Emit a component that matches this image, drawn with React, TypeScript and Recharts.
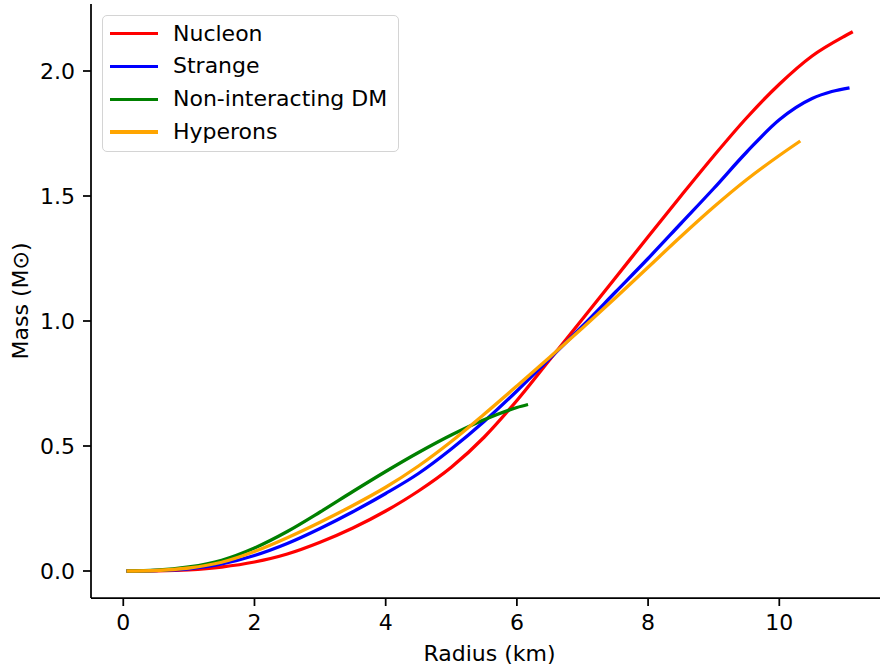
import React from "react";
import { LineChart, Line, XAxis, YAxis, Legend } from "recharts";

const nucleonRadius = [0.05, 0.5, 1, 1.5, 2, 2.5, 3, 3.5, 4, 4.5, 5, 5.5, 6, 6.5, 7, 7.5, 8, 8.5, 9, 9.5, 10, 10.5, 11, 11.12];
const nucleonMass = [0, 0.001, 0.005, 0.016, 0.036, 0.068, 0.115, 0.172, 0.24, 0.32, 0.415, 0.535, 0.682, 0.845, 1.008, 1.172, 1.337, 1.5, 1.66, 1.812, 1.947, 2.06, 2.14, 2.157];

const strangeRadius = [0.05, 0.5, 1, 1.5, 2, 2.5, 3, 3.5, 4, 4.5, 5, 5.5, 6, 6.5, 7, 7.5, 8, 8.5, 9, 9.5, 10, 10.5, 10.8, 11.07];
const strangeMass = [0, 0.002, 0.009, 0.028, 0.062, 0.11, 0.17, 0.237, 0.31, 0.39, 0.488, 0.598, 0.72, 0.85, 0.98, 1.115, 1.25, 1.39, 1.53, 1.675, 1.805, 1.89, 1.918, 1.933];

const dmRadius = [0.05, 0.5, 1, 1.5, 2, 2.5, 3, 3.5, 4, 4.5, 5, 5.5, 6, 6.17];
const dmMass = [0, 0.003, 0.016, 0.043, 0.092, 0.158, 0.236, 0.318, 0.398, 0.474, 0.544, 0.605, 0.654, 0.666];

const hyperonRadius = [0.05, 0.5, 1, 1.5, 2, 2.5, 3, 3.5, 4, 4.5, 5, 5.5, 6, 6.5, 7, 7.5, 8, 8.5, 9, 9.5, 10, 10.32];
const hyperonMass = [0, 0.002, 0.012, 0.035, 0.078, 0.133, 0.195, 0.262, 0.335, 0.42, 0.518, 0.627, 0.74, 0.855, 0.972, 1.092, 1.215, 1.338, 1.456, 1.565, 1.662, 1.72];

const seriesNames = ["Nucleon", "Strange", "Non-interacting DM", "Hyperons"];
const seriesColors = ["#ff0000", "#0000ff", "#008000", "#ffa500"];

const xTicks = [0, 2, 4, 6, 8, 10];
const yTicks = [0, 0.5, 1.0, 1.5, 2.0];
const xLabel = "Radius (km)";
const yLabel = "Mass (M\u2299)";

const toPoints = (rs: number[], ms: number[]) => rs.map((r, i) => ({ r, m: ms[i] }));

const series = [
  toPoints(nucleonRadius, nucleonMass),
  toPoints(strangeRadius, strangeMass),
  toPoints(dmRadius, dmMass),
  toPoints(hyperonRadius, hyperonMass),
];

const FONT = "'DejaVu Sans', sans-serif";
const FS = 22;

const XLab = (props: any) => {
  const vb = props.viewBox;
  return (
    <text x={vb.x + vb.width / 2} y={vb.y + 62.5} textAnchor="middle" fontFamily={FONT} fontSize={FS} fill="#000">
      {xLabel}
    </text>
  );
};

const YLab = (props: any) => {
  const vb = props.viewBox;
  const x = vb.x + 28;
  const y = vb.y + vb.height / 2;
  return (
    <text x={x} y={y} transform={`rotate(-90, ${x}, ${y})`} textAnchor="middle" fontFamily={FONT} fontSize={FS} fill="#000">
      {yLabel}
    </text>
  );
};

const LegendBox = () => (
  <div
    style={{
      width: 295,
      height: 135,
      border: "1.5px solid #d4d4d4",
      borderRadius: 5,
      background: "rgba(255,255,255,0.8)",
      position: "relative",
      fontFamily: FONT,
      fontSize: FS,
      boxSizing: "content-box",
    }}
  >
    {seriesNames.map((name, i) => (
      <div key={name} style={{ position: "absolute", left: 0, top: 17.5 + i * 32.8 - 16, height: 32, width: 295 }}>
        <div
          style={{
            position: "absolute",
            left: 7,
            top: 14.5,
            width: 48,
            height: 3.3,
            background: seriesColors[i],
          }}
        />
        <div style={{ position: "absolute", left: 70, top: 0, lineHeight: "32px", whiteSpace: "nowrap", color: "#000" }}>
          {name}
        </div>
      </div>
    ))}
  </div>
);

export default function App() {
  return (
    <div style={{ position: "absolute", left: 0, top: 0, width: 880, height: 664, overflow: "hidden", background: "#fff" }}>
      <LineChart width={890} height={664} margin={{ top: 4, right: 2, bottom: 0, left: 0 }}>
        <XAxis
          dataKey="r"
          type="number"
          domain={[-0.492, 11.657]}
          allowDataOverflow
          ticks={xTicks}
          height={66}
          tickSize={8}
          tickMargin={8}
          axisLine={{ stroke: "#000", strokeWidth: 1.75 }}
          tickLine={{ stroke: "#000", strokeWidth: 1.75 }}
          tick={{ fill: "#000", fontFamily: FONT, fontSize: FS }}
          label={<XLab />}
        />
        <XAxis
          xAxisId="top"
          orientation="top"
          type="number"
          domain={[-0.492, 11.657]}
          allowDataOverflow
          height={0}
          tick={false}
          tickLine={false}
          axisLine={{ stroke: "#000", strokeWidth: 1.75 }}
        />
        <YAxis
          type="number"
          domain={[-0.108, 2.268]}
          allowDataOverflow
          ticks={yTicks}
          width={91}
          tickSize={8}
          tickMargin={8}
          tickFormatter={(v: number) => v.toFixed(1)}
          axisLine={{ stroke: "#000", strokeWidth: 1.75 }}
          tickLine={{ stroke: "#000", strokeWidth: 1.75 }}
          tick={{ fill: "#000", fontFamily: FONT, fontSize: FS }}
          label={<YLab />}
        />
        {series.map((pts, i) => (
          <Line
            key={seriesNames[i]}
            data={pts}
            dataKey="m"
            name={seriesNames[i]}
            type="monotone"
            stroke={seriesColors[i]}
            strokeWidth={3.3}
            dot={false}
            activeDot={false}
            isAnimationActive={false}
          />
        ))}
        <Legend
          layout="vertical"
          align="center"
          verticalAlign="middle"
          content={<LegendBox />}
          wrapperStyle={{ left: 102, top: 15, width: 298, height: 138 }}
        />
      </LineChart>
    </div>
  );
}
